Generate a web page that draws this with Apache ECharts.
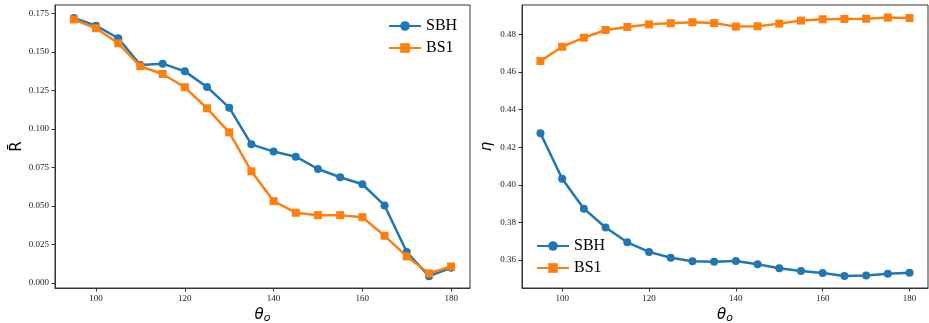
<!DOCTYPE html>
<html>
<head>
<meta charset="utf-8">
<script src="https://cdn.jsdelivr.net/npm/echarts@6/dist/echarts.min.js"></script>
<style>
html, body { margin: 0; padding: 0; background: #fff; }
#chart { width: 929px; height: 323px; }
</style>
</head>
<body>
<div id="chart"></div>
<script>
// theta_o values
var theta = [95, 100, 105, 110, 115, 120, 125, 130, 135, 140, 145, 150, 155, 160, 165, 170, 175, 180];

// left panel: R bar
var rSBH = [0.172, 0.167, 0.1588, 0.1414, 0.1423, 0.1373, 0.1272, 0.1137, 0.0899, 0.0852, 0.0819, 0.0739, 0.0685, 0.0640, 0.0502, 0.0200, 0.0043, 0.0097];
var rBS1 = [0.171, 0.1653, 0.1555, 0.1406, 0.1356, 0.1270, 0.1133, 0.0977, 0.0724, 0.0530, 0.0455, 0.0439, 0.0439, 0.0426, 0.0305, 0.0171, 0.0061, 0.0106];

// right panel: eta
var etaSBH = [0.4274, 0.4032, 0.3873, 0.3773, 0.3694, 0.3643, 0.3612, 0.3593, 0.3591, 0.3595, 0.3577, 0.3556, 0.3541, 0.3531, 0.3515, 0.3518, 0.3527, 0.3532];
var etaBS1 = [0.4658, 0.4734, 0.4782, 0.4823, 0.4839, 0.4853, 0.4859, 0.4864, 0.4860, 0.4841, 0.4843, 0.4857, 0.4873, 0.4880, 0.4882, 0.4883, 0.4889, 0.4887];

// tick labels
var xTicks = [100, 120, 140, 160, 180];
var rTicks = [0, 0.025, 0.05, 0.075, 0.1, 0.125, 0.15, 0.175];
var etaTicks = [0.36, 0.38, 0.40, 0.42, 0.44, 0.46, 0.48];

var blue = '#1f77b4', orange = '#ff7f0e';
var serif = 'Liberation Serif';

function pairs(ys) {
    return theta.map(function (t, i) { return [t, ys[i]]; });
}

function xAxis(idx) {
    return {
        type: 'value', gridIndex: idx, min: 90.75, max: 184.25,
        name: '{t|θ}{s|o}', nameLocation: 'middle', nameGap: 16,
        nameTextStyle: {
            rich: {
                t: { fontFamily: 'DejaVu Sans', fontStyle: 'italic', fontSize: 15, color: '#000' },
                s: { fontFamily: 'DejaVu Sans', fontStyle: 'italic', fontSize: 11, color: '#000', verticalAlign: 'bottom', padding: [6, 0, 0, 0] }
            }
        },
        axisLine: { show: true, onZero: false, lineStyle: { color: '#333', width: 1 } },
        axisTick: { show: true, inside: false, length: 3.5, customValues: xTicks, lineStyle: { color: '#333' } },
        axisLabel: { customValues: xTicks, fontFamily: serif, fontSize: 9, color: '#222', margin: 6 },
        splitLine: { show: false }
    };
}

function yAxis(idx, min, max, ticks, dec, name, italic) {
    return {
        type: 'value', gridIndex: idx, min: min, max: max,
        name: name, nameLocation: 'middle', nameGap: 27, nameRotate: 90,
        nameTextStyle: { fontFamily: 'DejaVu Sans', fontStyle: italic ? 'italic' : 'normal', fontSize: 15, color: '#000' },
        axisLine: { show: true, onZero: false, lineStyle: { color: '#333', width: 1 } },
        axisTick: { show: true, inside: false, length: 3.5, customValues: ticks, lineStyle: { color: '#333' } },
        axisLabel: {
            customValues: ticks, fontFamily: serif, fontSize: 9, color: '#222', margin: 6,
            formatter: function (v) { return v.toFixed(dec); }
        },
        splitLine: { show: false }
    };
}

function line(name, xi, data, color, symbol, size) {
    return {
        name: name, type: 'line', xAxisIndex: xi, yAxisIndex: xi,
        data: pairs(data), symbol: symbol, symbolSize: size, showAllSymbol: true,
        lineStyle: { color: color, width: 2.5 },
        itemStyle: { color: color },
        emphasis: { disabled: true },
        z: name === 'SBH' ? 3 : 4
    };
}

var legendItems = [{ name: 'SBH', itemStyle: { color: blue } }, { name: 'BS1', itemStyle: { color: orange } }];

var chart = echarts.init(document.getElementById('chart'));
chart.setOption({
    animation: false,
    grid: [
        { left: 55, top: 5, width: 415, height: 283, show: true, borderColor: '#333', borderWidth: 1, outerBoundsMode: 'none', containLabel: false },
        { left: 522, top: 5, width: 406, height: 283, show: true, borderColor: '#333', borderWidth: 1, outerBoundsMode: 'none', containLabel: false }
    ],
    legend: [
        {
            left: 383, top: 13, orient: 'vertical', itemWidth: 32, itemHeight: 12, itemGap: 6,
            textStyle: { fontFamily: serif, fontSize: 16, color: '#000' },
            data: legendItems
        },
        {
            left: 531, top: 233, orient: 'vertical', itemWidth: 32, itemHeight: 12, itemGap: 6,
            textStyle: { fontFamily: serif, fontSize: 16, color: '#000' },
            data: legendItems
        }
    ],
    xAxis: [xAxis(0), xAxis(1)],
    yAxis: [
        yAxis(0, -0.0034, 0.1804, rTicks, 3, 'R\u0304', false),
        yAxis(1, 0.3451, 0.4956, etaTicks, 2, 'η', true)
    ],
    series: [
        line('SBH', 0, rSBH, blue, 'circle', 8),
        line('BS1', 0, rBS1, orange, 'rect', 8),
        line('SBH', 1, etaSBH, blue, 'circle', 8),
        line('BS1', 1, etaBS1, orange, 'rect', 8)
    ]
});
</script>
</body>
</html>
